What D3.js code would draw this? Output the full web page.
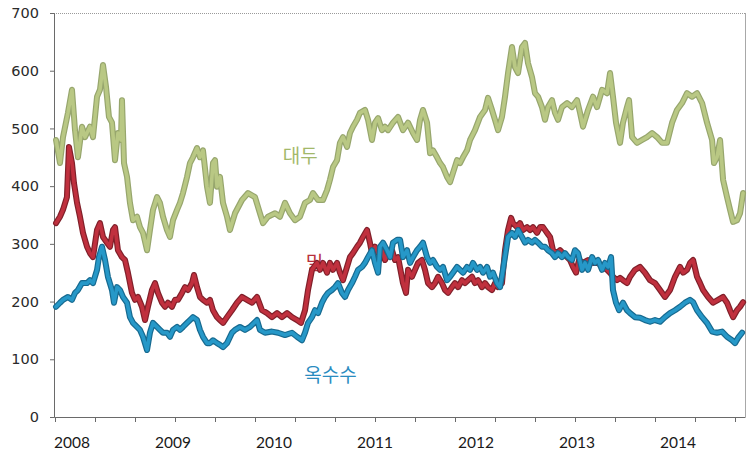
<!DOCTYPE html>
<html><head><meta charset="utf-8">
<script src="https://cdn.jsdelivr.net/npm/d3@7"></script>
<style>
html,body{margin:0;padding:0;background:#fff;}
svg{display:block;}
</style></head>
<body>
<svg id="chart" width="747" height="452"></svg>
<script>
// ---- data (time in decimal years) ----
const yearLabels = ["2008","2009","2010","2011","2012","2013","2014"];
const yTicks = [0,100,200,300,400,500,600,700];
const seriesNames = ["대두","밀","옥수수"];

const soybean = [[2007.842,480],[2007.881,440],[2007.911,485],[2007.960,527],[2008.000,567],[2008.030,497],[2008.059,450],[2008.099,503],[2008.129,485],[2008.178,503],[2008.208,485],[2008.248,555],[2008.277,567],[2008.307,610],[2008.337,572],[2008.366,520],[2008.396,510],[2008.426,445],[2008.455,492],[2008.485,480],[2008.495,549],[2008.515,440],[2008.545,416],[2008.574,371],[2008.604,341],[2008.644,347],[2008.673,329],[2008.703,319],[2008.743,289],[2008.772,324],[2008.802,359],[2008.842,381],[2008.871,371],[2008.901,347],[2008.941,324],[2008.970,312],[2009.000,341],[2009.040,359],[2009.069,371],[2009.099,388],[2009.139,416],[2009.168,440],[2009.198,450],[2009.238,466],[2009.267,450],[2009.297,462],[2009.337,399],[2009.366,371],[2009.396,440],[2009.416,445],[2009.436,399],[2009.465,416],[2009.495,371],[2009.535,347],[2009.564,324],[2009.614,353],[2009.683,376],[2009.743,388],[2009.812,381],[2009.861,353],[2009.891,336],[2009.941,347],[2010.010,353],[2010.059,347],[2010.109,371],[2010.158,353],[2010.208,341],[2010.257,347],[2010.307,371],[2010.356,376],[2010.386,388],[2010.436,376],[2010.485,376],[2010.525,393],[2010.554,411],[2010.584,433],[2010.624,445],[2010.653,475],[2010.683,485],[2010.723,468],[2010.752,492],[2010.782,503],[2010.822,515],[2010.851,527],[2010.901,532],[2010.931,515],[2010.970,480],[2011.000,510],[2011.030,518],[2011.069,497],[2011.099,503],[2011.129,497],[2011.178,510],[2011.228,520],[2011.277,497],[2011.327,510],[2011.376,492],[2011.416,480],[2011.446,515],[2011.475,532],[2011.515,510],[2011.545,457],[2011.574,462],[2011.614,450],[2011.644,440],[2011.673,433],[2011.713,416],[2011.743,407],[2011.772,423],[2011.812,445],[2011.842,440],[2011.871,450],[2011.911,462],[2011.941,480],[2011.990,497],[2012.040,520],[2012.089,532],[2012.119,553],[2012.158,532],[2012.188,515],[2012.218,497],[2012.257,520],[2012.287,555],[2012.317,596],[2012.356,641],[2012.386,606],[2012.416,596],[2012.455,641],[2012.485,648],[2012.515,613],[2012.554,589],[2012.584,561],[2012.614,555],[2012.653,537],[2012.683,515],[2012.713,537],[2012.752,549],[2012.782,527],[2012.812,515],[2012.851,537],[2012.901,544],[2012.950,537],[2013.000,549],[2013.030,527],[2013.059,503],[2013.109,532],[2013.158,555],[2013.198,537],[2013.248,567],[2013.297,561],[2013.327,596],[2013.356,555],[2013.386,510],[2013.426,475],[2013.455,510],[2013.495,537],[2013.515,549],[2013.545,485],[2013.594,475],[2013.644,480],[2013.693,485],[2013.743,492],[2013.792,485],[2013.842,475],[2013.891,475],[2013.941,510],[2013.990,532],[2014.040,544],[2014.089,561],[2014.139,555],[2014.188,561],[2014.238,544],[2014.287,510],[2014.337,480],[2014.356,440],[2014.386,450],[2014.416,480],[2014.446,411],[2014.485,381],[2014.515,359],[2014.545,338],[2014.584,341],[2014.614,353],[2014.644,388]];

const wheat = [[2007.842,336],[2007.881,347],[2007.911,359],[2007.950,381],[2007.970,468],[2008.000,440],[2008.020,405],[2008.050,371],[2008.079,347],[2008.109,319],[2008.149,295],[2008.178,284],[2008.208,277],[2008.248,324],[2008.277,336],[2008.307,312],[2008.347,302],[2008.376,295],[2008.406,324],[2008.426,329],[2008.455,289],[2008.495,277],[2008.525,272],[2008.554,250],[2008.594,215],[2008.624,203],[2008.653,208],[2008.693,191],[2008.723,168],[2008.752,191],[2008.792,220],[2008.822,232],[2008.851,215],[2008.891,198],[2008.921,191],[2008.950,198],[2008.990,191],[2009.020,203],[2009.050,203],[2009.089,215],[2009.119,225],[2009.149,220],[2009.188,232],[2009.208,246],[2009.238,225],[2009.267,208],[2009.297,203],[2009.337,198],[2009.366,203],[2009.396,185],[2009.436,173],[2009.465,168],[2009.495,163],[2009.535,173],[2009.584,185],[2009.634,198],[2009.683,208],[2009.733,203],[2009.782,198],[2009.832,208],[2009.881,185],[2009.931,180],[2009.980,173],[2010.030,180],[2010.079,173],[2010.129,180],[2010.178,173],[2010.228,168],[2010.267,163],[2010.307,185],[2010.337,220],[2010.376,255],[2010.426,267],[2010.455,255],[2010.485,267],[2010.525,250],[2010.554,267],[2010.584,255],[2010.624,267],[2010.653,250],[2010.683,237],[2010.723,260],[2010.752,277],[2010.782,284],[2010.822,295],[2010.851,302],[2010.881,312],[2010.921,324],[2010.950,302],[2010.970,284],[2011.000,295],[2011.030,284],[2011.069,289],[2011.099,272],[2011.129,284],[2011.168,289],[2011.198,272],[2011.228,277],[2011.277,232],[2011.307,215],[2011.327,255],[2011.366,243],[2011.396,255],[2011.426,267],[2011.465,272],[2011.495,255],[2011.525,232],[2011.564,225],[2011.594,232],[2011.624,243],[2011.663,232],[2011.693,220],[2011.723,215],[2011.762,225],[2011.792,232],[2011.822,225],[2011.861,237],[2011.891,232],[2011.921,237],[2011.960,243],[2011.990,232],[2012.020,237],[2012.059,225],[2012.089,232],[2012.119,225],[2012.158,220],[2012.188,232],[2012.218,225],[2012.257,232],[2012.287,289],[2012.317,324],[2012.347,345],[2012.366,336],[2012.406,329],[2012.436,336],[2012.465,324],[2012.505,329],[2012.535,324],[2012.564,329],[2012.604,319],[2012.634,329],[2012.663,329],[2012.703,319],[2012.733,312],[2012.762,289],[2012.802,284],[2012.832,289],[2012.861,284],[2012.901,277],[2012.931,272],[2012.960,260],[2012.990,250],[2013.020,272],[2013.059,267],[2013.109,272],[2013.158,267],[2013.208,267],[2013.257,260],[2013.297,255],[2013.327,250],[2013.356,243],[2013.396,237],[2013.426,241],[2013.455,237],[2013.495,232],[2013.525,243],[2013.574,255],[2013.624,260],[2013.673,250],[2013.723,237],[2013.772,232],[2013.822,220],[2013.871,208],[2013.921,220],[2013.970,243],[2014.020,260],[2014.050,250],[2014.089,255],[2014.119,267],[2014.149,272],[2014.188,243],[2014.218,232],[2014.248,220],[2014.297,208],[2014.347,198],[2014.396,203],[2014.446,208],[2014.485,198],[2014.515,185],[2014.545,173],[2014.584,185],[2014.614,191],[2014.644,199]];

const corn = [[2007.842,191],[2007.881,198],[2007.911,203],[2007.960,208],[2008.000,203],[2008.030,215],[2008.059,220],[2008.099,232],[2008.149,232],[2008.178,237],[2008.208,232],[2008.248,255],[2008.267,277],[2008.297,295],[2008.327,272],[2008.356,243],[2008.396,220],[2008.416,198],[2008.446,225],[2008.475,220],[2008.505,208],[2008.545,198],[2008.574,173],[2008.604,163],[2008.644,156],[2008.673,151],[2008.703,139],[2008.743,116],[2008.772,146],[2008.802,163],[2008.842,156],[2008.871,151],[2008.901,146],[2008.941,146],[2008.970,139],[2009.000,151],[2009.040,156],[2009.069,151],[2009.099,156],[2009.139,163],[2009.168,168],[2009.198,173],[2009.238,168],[2009.267,151],[2009.297,139],[2009.337,128],[2009.366,128],[2009.396,133],[2009.436,128],[2009.465,125],[2009.495,121],[2009.535,128],[2009.584,146],[2009.614,151],[2009.663,156],[2009.713,151],[2009.762,156],[2009.832,168],[2009.861,151],[2009.911,146],[2009.980,148],[2010.040,146],[2010.109,142],[2010.178,146],[2010.228,139],[2010.277,133],[2010.307,146],[2010.337,163],[2010.376,173],[2010.406,185],[2010.436,180],[2010.475,198],[2010.505,208],[2010.535,215],[2010.574,220],[2010.604,225],[2010.634,232],[2010.673,215],[2010.703,208],[2010.733,220],[2010.772,232],[2010.802,243],[2010.832,255],[2010.871,260],[2010.901,267],[2010.931,277],[2010.970,289],[2011.000,267],[2011.030,250],[2011.050,295],[2011.079,302],[2011.119,289],[2011.149,277],[2011.178,302],[2011.218,307],[2011.248,307],[2011.277,277],[2011.317,289],[2011.347,267],[2011.376,277],[2011.416,289],[2011.446,295],[2011.475,302],[2011.515,277],[2011.545,267],[2011.574,272],[2011.614,260],[2011.644,255],[2011.673,260],[2011.713,237],[2011.743,243],[2011.772,250],[2011.812,260],[2011.842,255],[2011.871,250],[2011.911,260],[2011.941,255],[2011.970,267],[2012.010,255],[2012.040,260],[2012.069,250],[2012.109,260],[2012.139,243],[2012.168,250],[2012.208,232],[2012.238,225],[2012.267,255],[2012.297,289],[2012.317,312],[2012.356,319],[2012.386,312],[2012.416,324],[2012.455,312],[2012.485,302],[2012.515,307],[2012.554,302],[2012.584,307],[2012.614,302],[2012.653,295],[2012.683,295],[2012.713,289],[2012.752,284],[2012.782,277],[2012.812,284],[2012.851,277],[2012.881,284],[2012.911,277],[2012.950,272],[2012.980,289],[2013.010,284],[2013.050,255],[2013.079,267],[2013.109,255],[2013.149,277],[2013.178,267],[2013.208,272],[2013.248,255],[2013.277,267],[2013.307,260],[2013.337,277],[2013.356,220],[2013.386,198],[2013.416,185],[2013.455,198],[2013.495,185],[2013.525,180],[2013.574,173],[2013.624,172],[2013.673,168],[2013.723,165],[2013.772,168],[2013.822,165],[2013.871,173],[2013.921,180],[2013.970,185],[2014.020,191],[2014.069,198],[2014.119,203],[2014.149,199],[2014.188,185],[2014.238,173],[2014.287,163],[2014.337,148],[2014.386,146],[2014.436,148],[2014.485,139],[2014.535,133],[2014.564,128],[2014.594,137],[2014.634,146]];

// tick marks on the time axis: one every 0.396 year starting at the first data period
const xTickStart = 2007.832, xTickStep = 0.396, xTickCount = 18;

(function () {
  const svg = d3.select("#chart");
  const mL = 54, mR = 745, mT = 13, mB = 417;

  const x = d3.scaleLinear().domain([2007.822, 2014.663]).range([mL, mR]);
  const y = d3.scaleLinear().domain([0, 700]).range([mB, mT]);

  // frame: dotted top, right border
  svg.append("line").attr("x1", mL).attr("x2", mR).attr("y1", mT + 0.5).attr("y2", mT + 0.5)
    .attr("stroke", "#9a9a9a").attr("stroke-width", 1).attr("stroke-dasharray", "1,1");
  svg.append("line").attr("x1", mR + 0.5).attr("x2", mR + 0.5).attr("y1", mT).attr("y2", mB)
    .attr("stroke", "#a8a8a8").attr("stroke-width", 1);

  // y axis
  const yAxis = svg.append("g").attr("transform", `translate(${mL},0)`)
    .call(d3.axisLeft(y).tickValues(yTicks).tickSize(4).tickPadding(11).tickFormat(d3.format("d")));
  yAxis.select(".domain").attr("stroke", "#6a6a6a");
  yAxis.selectAll(".tick line").attr("stroke", "#6a6a6a");
  yAxis.selectAll("text").attr("font-family", "'DejaVu Sans', Verdana, sans-serif")
    .attr("font-size", 14.5).attr("fill", "#2a2a2a");

  // x axis
  const xTickVals = d3.range(xTickCount).map(i => xTickStart + i * xTickStep);
  const xAxis = svg.append("g").attr("transform", `translate(0,${mB})`)
    .call(d3.axisBottom(x).tickValues(xTickVals).tickSize(5).tickSizeOuter(0).tickFormat(""));
  xAxis.select(".domain").attr("stroke", "#6a6a6a");
  xAxis.selectAll(".tick line").attr("stroke", "#6a6a6a");

  svg.append("g").selectAll("text").data(yearLabels).join("text")
    .attr("x", d => x(+d)).attr("y", 448)
    .attr("text-anchor", "middle")
    .attr("font-family", "Lato, 'Open Sans', sans-serif").attr("font-size", 15.5)
    .attr("fill", "#1a1a1a").text(d => d);

  // series labels (drawn under the lines)
  const labelFont = "'Noto Sans CJK KR', sans-serif";
  const labels = [
    {name: seriesNames[0], t: 2010.26, v: 455, color: "#a3b86a"},
    {name: seriesNames[1], t: 2010.40, v: 270, color: "#b8303c"},
    {name: seriesNames[2], t: 2010.56, v: 75, color: "#2a8cbf"}
  ];
  svg.append("g").selectAll("text").data(labels).join("text")
    .attr("x", d => x(d.t)).attr("y", d => y(d.v))
    .attr("text-anchor", "middle").attr("dominant-baseline", "central")
    .attr("font-family", labelFont).attr("font-size", 19).attr("font-weight", 400)
    .attr("fill", d => d.color).text(d => d.name);

  // lines
  const line = d3.line().x(d => x(d[0])).y(d => y(d[1])).curve(d3.curveLinear);
  const series = [
    {data: soybean, edge: "#97a66d", fill: "#b9c884"},
    {data: wheat,   edge: "#80202a", fill: "#c0303e"},
    {data: corn,    edge: "#176a90", fill: "#2698c8"}
  ];
  const g = svg.append("g");
  series.forEach(s => {
    g.append("path").datum(s.data).attr("d", line).attr("fill", "none")
      .attr("stroke", s.edge).attr("stroke-width", 6).attr("stroke-linejoin", "round").attr("stroke-linecap", "round");
    g.append("path").datum(s.data).attr("d", line).attr("fill", "none")
      .attr("stroke", s.fill).attr("stroke-width", 3.6).attr("stroke-linejoin", "round").attr("stroke-linecap", "round");
  });
})();
</script>
</body></html>
